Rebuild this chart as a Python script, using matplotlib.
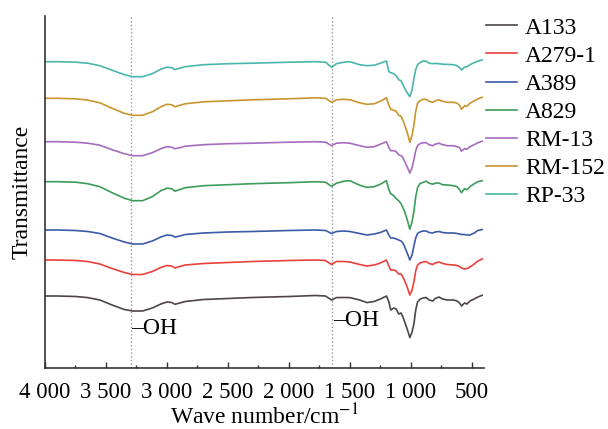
import matplotlib
matplotlib.use("Agg")
import matplotlib.pyplot as plt
from matplotlib.ticker import FixedLocator, FixedFormatter

plt.rcParams['font.family'] = ['Liberation Serif', 'DejaVu Serif']
plt.rcParams['mathtext.fontset'] = 'stix'

wavenumber = [4000, 3900, 3750, 3650, 3550, 3450, 3350, 3280, 3200, 3120,
              3050, 3000, 2960, 2935, 2910, 2850, 2700, 2500, 2300, 2000,
              1780, 1700, 1650, 1610, 1550, 1500, 1420, 1360, 1300, 1250,
              1200, 1180, 1165, 1140, 1120, 1100, 1080, 1065, 1050, 1030,
              1008, 990, 975, 960, 945, 926, 900, 875, 850, 820,
              800, 770, 740, 700, 650, 620, 600, 585, 560, 540,
              515, 480, 450, 415]

# transmittance relative to each curve's own baseline (arbitrary units)
a133 = [0, 0, -0.5, -1.6, -4, -9, -13.5, -15, -15, -12,
        -8, -6, -6.5, -8.3, -7.5, -5.5, -3.5, -2.5, -1.5, -0.5,
        0.5, 0, -4, -1.6, -1.5, -1.6, -4, -6.6, -5.5, -3,
        0, -6, -14, -12, -13, -18, -17, -21, -26, -33,
        -41.6, -36, -28, -14, -6, -3.3, -2, -1.5, -4, -5,
        -2.5, -1, -3, -4, -4, -5, -7, -10, -7, -8,
        -5, -3, -1, 0.7]
a279 = [0, 0, -0.5, -1.5, -4, -8.5, -12.5, -14.5, -14.5, -11.5,
        -7.5, -5.5, -6, -8, -7, -5, -3.5, -2.5, -1.5, -0.5,
        0, -0.5, -4.5, -1.5, -1.5, -2, -4.5, -6, -5, -3,
        0, -6, -10, -10, -11, -14, -14, -17, -21, -27,
        -35, -30, -22, -11, -5, -3, -2, -1.5, -3.5, -4.5,
        -3, -2, -3.5, -4.5, -5, -5.5, -6.5, -8, -9, -8.5,
        -7, -4, -1, 1]
a389 = [0, 0, -0.5, -1.5, -3.5, -8, -12, -14, -14, -11,
        -7, -5, -5.5, -7, -6.5, -4.5, -3, -2, -1.5, -0.5,
        0, -0.5, -3.5, -1.5, -1, -1.5, -3.5, -5, -4, -2.5,
        0, -5, -8, -8, -9, -10, -11, -13, -17, -23,
        -30, -25, -16, -8, -3.5, -2, -1, -1, -2.5, -3,
        -2, -1.5, -2.5, -3, -3, -3.5, -4, -4.5, -4.5, -5,
        -5, -3, -0.5, 0.5]
a829 = [0, 0, -0.5, -2, -5, -11, -16.5, -19, -19, -15,
        -9, -6.5, -7, -9.5, -8.5, -6, -4, -3, -2, -1,
        0, -0.5, -4.7, -1.5, 0.5, 1, -3.5, -5.7, -5, -2.5,
        1, -8, -12, -14, -17, -19, -22, -26, -30, -38,
        -47.5, -40, -30, -15, -6, -2, -0.7, 0.5, -1.5, -2.5,
        -1.5, -1.3, -3, -3.3, -4, -5, -8, -11, -7, -8,
        -5, -2, 0, 1]
rm13 = [0, 0, -0.5, -1.5, -3.5, -8, -12, -14, -14, -11,
        -7, -5, -5.5, -7, -6.5, -4.5, -3, -2, -1.5, -0.5,
        0, -0.5, -4, -1.5, -1, -1.5, -4, -5.5, -5, -2.5,
        0, -6, -9, -9, -10, -13, -14, -16, -20, -25,
        -31.5, -26, -18, -9, -4, -2, -1, -1, -3, -4,
        -2.5, -1.5, -3, -4, -4, -5, -6, -9.5, -7, -7.5,
        -5, -3, -1, 0.5]
rm152 = [0, 0, -0.5, -1.8, -4.5, -10, -15, -17, -17, -13.5,
         -8.5, -6, -6.5, -8.5, -7.5, -5.5, -3.5, -2.5, -1.5, -0.5,
         0.5, 0, -4, -1.5, -1, -1.5, -4.5, -6, -5.5, -3,
         0.5, -7, -11, -12, -13, -17, -18, -22, -27, -34,
         -44, -37, -27, -13, -5, -2.5, -1, -1, -3, -4,
         -2.5, -1.5, -3, -4, -4, -5, -7, -11, -7.5, -8,
         -5, -2.5, -0.5, 1]
rp33 = [0, 0, -0.5, -1.5, -4, -8.5, -13, -15, -15, -12,
        -7.5, -5.5, -6, -8, -7, -5, -3, -2, -1.5, -0.5,
        0, -0.5, -5.5, -2, -0.5, 0, -3, -4, -3.5, -1.5,
        0.7, -10, -11, -12, -14, -18, -19, -23, -27, -31,
        -35, -28, -17, -8, -3, -1, 0.7, 0.5, -1.5, -2,
        -1.7, -2, -2.5, -2.7, -3, -4, -6, -8.3, -5.5, -5,
        -3, -1, 0.5, 1.7]

names = ['A133', 'A279-1', 'A389', 'A829', 'RM-13', 'RM-152', 'RP-33']
spectra = [a133, a279, a389, a829, rm13, rm152, rp33]
offsets = [72, 108, 138, 186.3, 226.3, 269.7, 306.3]   # stacking shift
colors = ['#4e4548', '#e8413c', '#3c5aa8', '#3d9c5b', '#a66cc0', '#c9952e', '#4ab5ad']

oh_bands = [3295, 1645]
xticks = [4000, 3500, 3000, 2500, 2000, 1500, 1000, 500]
xticklabels = ['4 000', '3 500', '3 000', '2 500', '2 000', '1 500', '1 000', '500']

fig = plt.figure(figsize=(6.08, 4.29), dpi=100)
ax = fig.add_axes([45/608, 1 - 368/429, 439/608, 352/429])

for name, spec, off, c in zip(names, spectra, offsets, colors):
    ax.plot(wavenumber, [v + off for v in spec], color=c, lw=1.2, label=name)

for w in oh_bands:
    ax.axvline(w, color='#9a9a9a', ls=':', lw=1.0, zorder=0)

ax.text(3290, 40, '\u2013OH', fontsize=17, va='center', ha='left')
ax.text(1640, 47, '\u2013OH', fontsize=17, va='center', ha='left')

ax.set_xlim(4000, 400)
ax.set_ylim(0, 352)
ax.xaxis.set_major_locator(FixedLocator(xticks))
ax.xaxis.set_major_formatter(FixedFormatter(xticklabels))
ax.xaxis.set_minor_locator(FixedLocator([3750, 3250, 2750, 2250, 1750, 1250, 750]))
ax.tick_params(axis='x', which='major', direction='in', length=4, width=1,
               labelsize=16.5, pad=10, color='#333333')
ax.tick_params(axis='x', which='minor', direction='in', length=2.5, width=1,
               color='#333333')
ax.set_yticks([])
for s in ['top', 'right']:
    ax.spines[s].set_visible(False)
for s in ['left', 'bottom']:
    ax.spines[s].set_color('#333333')
    ax.spines[s].set_linewidth(1.2)

ax.set_xlabel('Wave number/cm$^{-1}$', fontsize=17, labelpad=1)
ax.set_ylabel('Transmittance', fontsize=17, labelpad=9)

fig.legend(loc='upper left', bbox_to_anchor=(486/608, 1 - 17/429), frameon=False,
           fontsize=17, handlelength=1.3, handletextpad=0.35, labelspacing=0.28,
           borderpad=0, borderaxespad=0)

fig.savefig('out.png', dpi=100)
